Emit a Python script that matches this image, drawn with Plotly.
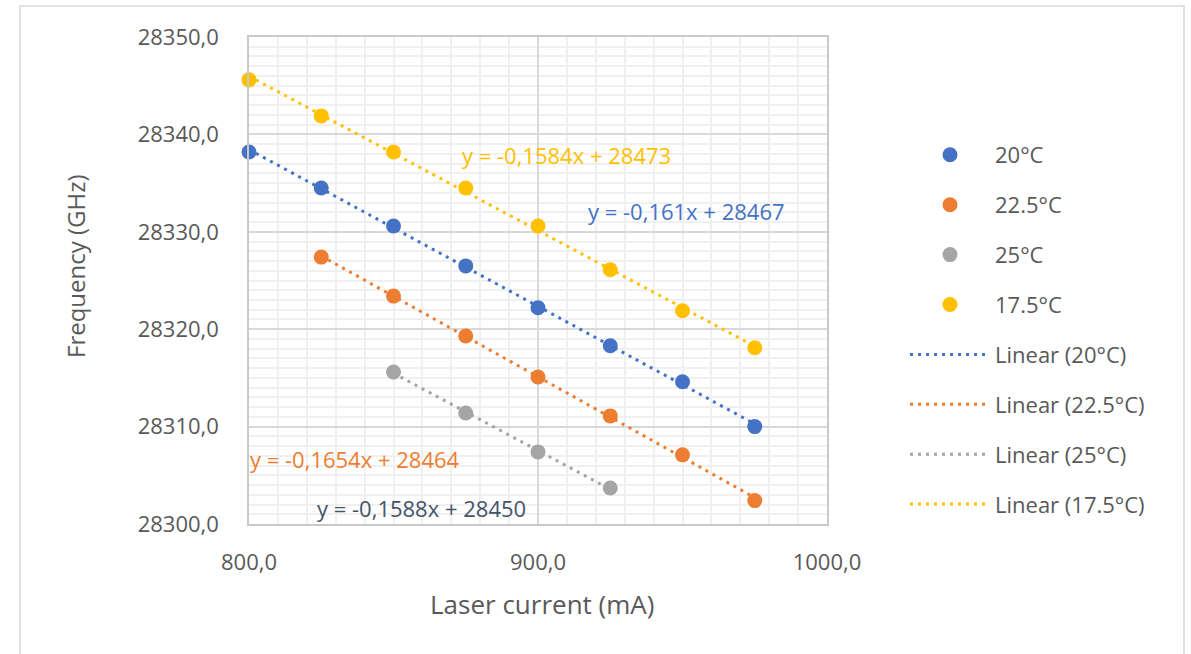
import numpy as np
import plotly.graph_objects as go

# Laser current (mA) and measured frequency (GHz) per temperature
series_names = ["20°C", "22.5°C", "25°C", "17.5°C"]
current_20 = [800, 825, 850, 875, 900, 925, 950, 975]
freq_20 = [28338.2, 28334.5, 28330.6, 28326.5, 28322.2, 28318.3, 28314.6, 28310.0]
current_22_5 = [825, 850, 875, 900, 925, 950, 975]
freq_22_5 = [28327.4, 28323.4, 28319.3, 28315.1, 28311.1, 28307.1, 28302.4]
current_25 = [850, 875, 900, 925]
freq_25 = [28315.6, 28311.4, 28307.4, 28303.7]
current_17_5 = [800, 825, 850, 875, 900, 925, 950, 975]
freq_17_5 = [28345.6, 28341.9, 28338.2, 28334.5, 28330.6, 28326.1, 28321.9, 28318.1]

x_ticks = [800, 900, 1000]
y_ticks = [28300, 28310, 28320, 28330, 28340, 28350]

currents = [current_20, current_22_5, current_25, current_17_5]
freqs = [freq_20, freq_22_5, freq_25, freq_17_5]
colors = ["#4472C4", "#ED7D31", "#A5A5A5", "#FFC000"]
label_colors = ["#4472C4", "#ED7D31", "#44546A", "#FFC000"]
# where each regression equation is written (data coordinates)
label_pos = [(951.5, 28332.1), (836.7, 28306.7), (859.6, 28301.6), (910.0, 28337.9)]

TXT = "#595959"
FONT = "Open Sans"

fig = go.Figure()

for name, xs, ys, col in zip(series_names, currents, freqs, colors):
    fig.add_trace(go.Scatter(
        x=xs, y=ys, mode="markers", name=name, legendgroup="m" + name,
        marker=dict(color=col, size=15, line=dict(width=0)),
        cliponaxis=False,
    ))

annotations = []
for name, xs, ys, col, lcol, pos in zip(series_names, currents, freqs, colors,
                                        label_colors, label_pos):
    slope, intercept = np.polyfit(xs, ys, 1)
    xe = np.array([min(xs), max(xs)], dtype=float)
    fig.add_trace(go.Scatter(
        x=xe, y=np.polyval([slope, intercept], xe), mode="lines",
        name=f"Linear ({name})", legendgroup="l" + name,
        line=dict(color=col, width=3, dash="3px,5px"),
    ))
    eq = f"y = {slope:.4g}x + {intercept:.5g}".replace(".", ",")
    annotations.append(dict(
        x=pos[0], y=pos[1], xref="x", yref="y", text=eq, showarrow=False,
        font=dict(family=FONT, size=22, color=lcol),
        xanchor="center", yanchor="middle",
    ))

# axis titles
annotations.append(dict(
    x=(542 - 249) / 578, y=(524 - 604) / 487, xref="paper", yref="paper",
    text="Laser current (mA)", showarrow=False,
    font=dict(family=FONT, size=26, color=TXT), xanchor="center", yanchor="middle",
))
annotations.append(dict(
    x=(75 - 249) / 578, y=(524 - 266) / 487, xref="paper", yref="paper",
    text="Frequency (GHz)", showarrow=False, textangle=-90,
    font=dict(family=FONT, size=24, color=TXT), xanchor="center", yanchor="middle",
))

axis_common = dict(
    showgrid=True, gridcolor="#D9D9D9", gridwidth=1.5,
    showline=True, linecolor="#C9C9C9", linewidth=1.5, mirror=True,
    ticks="", zeroline=False, tickformat=".1f",
    tickfont=dict(family=FONT, size=22, color=TXT),
)

fig.update_xaxes(
    range=[800, 1000], tickvals=x_ticks, ticklabelstandoff=18,
    minor=dict(dtick=10, showgrid=True, gridcolor="#F0F0F0", gridwidth=1.5),
    **axis_common,
)
fig.update_yaxes(
    range=[28300, 28350], tickvals=y_ticks, ticklabelstandoff=24,
    minor=dict(dtick=1, showgrid=True, gridcolor="#F0F0F0", gridwidth=1.5),
    **axis_common,
)

# chart frame
fig.add_shape(
    type="rect", xref="paper", yref="paper",
    x0=(20 - 249) / 578, x1=(1184 - 249) / 578,
    y0=(524 - 670) / 487, y1=(524 - 6) / 487,
    line=dict(color="#D9D9D9", width=1.5), fillcolor="rgba(0,0,0,0)", layer="below",
)

fig.update_layout(
    width=1191, height=654,
    margin=dict(l=249, r=1191 - 827, t=37, b=654 - 524),
    paper_bgcolor="white", plot_bgcolor="white",
    separators=",.",
    font=dict(family=FONT, color=TXT),
    showlegend=True,
    legend=dict(
        x=(905 - 249) / 578, y=(524 - 134) / 487, xanchor="left", yanchor="top",
        font=dict(family=FONT, size=22, color=TXT),
        tracegroupgap=18.3, itemwidth=80, bgcolor="rgba(0,0,0,0)",
    ),
    annotations=annotations,
)

fig.write_html("out.html")
